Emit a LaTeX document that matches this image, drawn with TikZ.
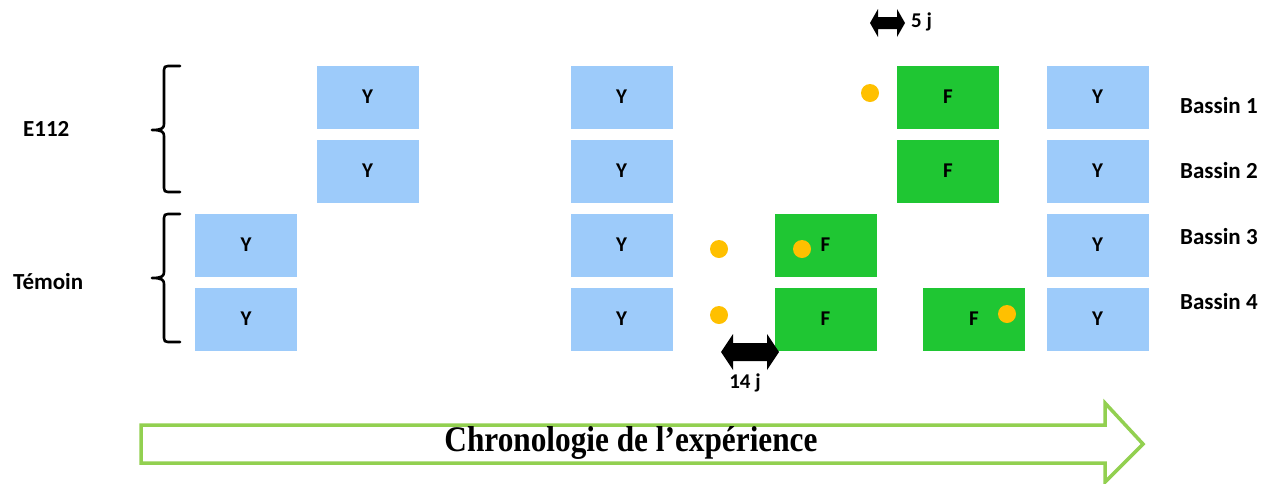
\documentclass[tikz,border=0pt]{standalone}
\usepackage{fontspec}
\setmainfont{Carlito}
\newfontfamily\serifchrono{Liberation Serif}
\usetikzlibrary{calc}
\definecolor{boxblue}{RGB}{157,203,250}
\definecolor{boxgreen}{RGB}{31,198,51}
\definecolor{dotorange}{RGB}{255,192,0}
\definecolor{arrowgreen}{RGB}{146,208,80}
\tikzset{
  ybox/.style={fill=boxblue, draw=white, line width=0.6pt, minimum width=103pt, minimum height=64pt, inner sep=0pt, font=\bfseries\fontsize{21}{21}\selectfont},
  fbox/.style={fill=boxgreen, draw=white, line width=0.6pt, minimum width=103pt, minimum height=64pt, inner sep=0pt, font=\bfseries\fontsize{21}{21}\selectfont},
  odot/.style={circle, fill=dotorange, minimum size=18pt, inner sep=0pt},
  lbl/.style={font=\bfseries\fontsize{23}{23}\selectfont, inner sep=0pt},
  small/.style={font=\bfseries\fontsize{21}{21}\selectfont, inner sep=0pt},
  brace/.style={line width=2.6pt, line cap=round, line join=round},
  dblarrow/.style={fill=black},
}
\begin{document}
\begin{tikzpicture}[x=1pt,y=-1pt]
\useasboundingbox (0,0) rectangle (1279,483);
% timeline arrow
\draw[arrowgreen, line width=3.5pt, line join=miter]
  (141,425) -- (1105,425) -- (1105,403) -- (1143,444) -- (1105,482) -- (1105,463) -- (141,463) -- cycle;
\node[inner sep=0pt, font=\serifchrono\bfseries\fontsize{26}{26}\selectfont] (chrono) at (631,443) {\resizebox{373pt}{25pt}{Chronologie de l’expérience}};
% boxes
\node[ybox] (a3) at (246,245) {Y};
\node[ybox] (a4) at (246,319) {Y};
\node[ybox] (b1) at (367.5,97) {Y};
\node[ybox] (b2) at (367.5,171) {Y};
\node[ybox] (c1) at (621.5,97) {Y};
\node[ybox] (c2) at (621.5,171) {Y};
\node[ybox] (c3) at (621.5,245) {Y};
\node[ybox] (c4) at (621.5,319) {Y};
\node[fbox] (d3) at (825.5,245) {F};
\node[fbox] (d4) at (825.5,319) {F};
\node[fbox] (e1) at (948,97) {F};
\node[fbox] (e2) at (948,171) {F};
\node[fbox] (g4) at (974,319) {F};
\node[ybox] (f1) at (1097.5,97) {Y};
\node[ybox] (f2) at (1097.5,171) {Y};
\node[ybox] (f3) at (1097.5,245) {Y};
\node[ybox] (f4) at (1097.5,319) {Y};
% dots
\node[odot] (o1) at (870,93) {};
\node[odot] (o3) at (719,249) {};
\node[odot] (o4) at (719,315) {};
\node[odot] (o3b) at (802,249) {};
\node[odot] (o4b) at (1007,314) {};
% labels
\node[lbl, anchor=west] (bas1) at (1180,106) {Bassin 1};
\node[lbl, anchor=west] (bas2) at (1180,171) {Bassin 2};
\node[lbl, anchor=west] (bas3) at (1180,237) {Bassin 3};
\node[lbl, anchor=west] (bas4) at (1180,302) {Bassin 4};
\node[lbl, anchor=west] (e112) at (23,129) {E112};
\node[lbl, anchor=west] (temoin) at (13,282) {Témoin};
% braces
\draw[brace] (180,66) -- (168,66) .. controls (165,66) and (164,67) .. (164,70)
  -- (164,124) .. controls (164,128) and (162,130) .. (152,130)
  (152,130) .. controls (162,130) and (164,132) .. (164,136)
  -- (164,188) .. controls (164,191) and (165,192) .. (168,192) -- (180,192);
\draw[brace] (180,214) -- (168,214) .. controls (165,214) and (164,215) .. (164,218)
  -- (164,272) .. controls (164,276) and (162,278) .. (152,278)
  (152,278) .. controls (162,278) and (164,280) .. (164,284)
  -- (164,338) .. controls (164,341) and (165,342) .. (168,342) -- (180,342);
% double arrows
\fill[dblarrow] (870,23) -- (878,9) -- (878,17) -- (897,17) -- (897,9) -- (905,23) -- (897,37) -- (897,29) -- (878,29) -- (878,37) -- cycle;
\node[small, anchor=west] (j5) at (911,22) {5 j};
\fill[dblarrow] (721,352) -- (733,334) -- (733,343) -- (767,343) -- (767,334) -- (779,352) -- (767,370) -- (767,361) -- (733,361) -- (733,370) -- cycle;
\node[small] (j14) at (745,383) {14 j};
\end{tikzpicture}
\end{document}
